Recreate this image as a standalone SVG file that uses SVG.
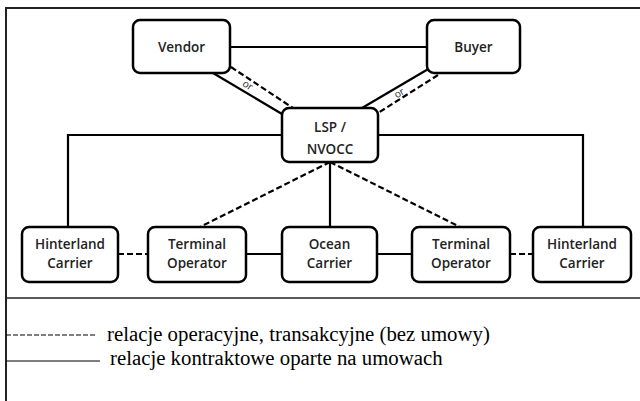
<svg xmlns="http://www.w3.org/2000/svg" width="640" height="401" viewBox="0 0 640 401">
<style>
.box{fill:#fff;stroke:#000;stroke-width:2.5}
.lbl{font-family:"Open Sans","Liberation Sans",sans-serif;font-weight:600;font-size:13.5px;fill:#222;text-anchor:middle}
.c{stroke:#000;stroke-width:2.2;fill:none}
.d{stroke:#000;stroke-width:2.2;fill:none;stroke-dasharray:6 3}
.or{font-family:"Open Sans","Liberation Sans",sans-serif;font-size:10px;fill:#222;text-anchor:middle}
.leg{font-family:"Liberation Serif","Times New Roman",serif;font-size:20.8px;fill:#000}
</style>
<rect width="640" height="401" fill="#fff"/>
<g id="frame">
<line x1="5" y1="8" x2="640" y2="8" stroke="#222" stroke-width="2"/>
<line x1="6" y1="7" x2="6" y2="401" stroke="#222" stroke-width="2"/>
<line x1="6" y1="298" x2="640" y2="298" stroke="#222" stroke-width="1.5"/>
</g>
<g id="connectors">
<line class="c" x1="230" y1="47" x2="427" y2="47"/>
<line class="c" x1="213" y1="73" x2="282" y2="114"/>
<line class="d" x1="231" y1="67" x2="293" y2="108"/>
<text class="or" transform="translate(246,88) rotate(33)">or</text>
<line class="c" x1="430" y1="68" x2="362" y2="108"/>
<line class="d" x1="438" y1="75" x2="378" y2="113"/>
<text class="or" transform="translate(401,96) rotate(-31)">or</text>
<polyline class="c" points="282,135 68,135 68,227"/>
<polyline class="c" points="378,135 583,135 583,227"/>
<line class="c" x1="330" y1="162" x2="330" y2="227"/>
<line class="d" x1="330" y1="162" x2="200" y2="227"/>
<line class="d" x1="330" y1="162" x2="460" y2="227"/>
<line class="d" x1="118" y1="254" x2="148" y2="254"/>
<line class="c" x1="246" y1="254" x2="282" y2="254"/>
<line class="c" x1="377" y1="254" x2="412" y2="254"/>
<line class="d" x1="510" y1="254" x2="533" y2="254"/>
</g>
<g id="vendor"><rect class="box" x="133" y="20" width="97" height="53" rx="7"/><text class="lbl" x="181.5" y="52">Vendor</text></g>
<g id="buyer"><rect class="box" x="427" y="20" width="93" height="53" rx="7"/><text class="lbl" x="473.5" y="52">Buyer</text></g>
<g id="lsp"><rect class="box" x="282" y="108" width="96" height="54" rx="7"/><text class="lbl" x="330" y="132">LSP /</text><text class="lbl" x="330" y="154">NVOCC</text></g>
<g id="hinterland-left"><rect class="box" x="22" y="227" width="96" height="55" rx="7"/><text class="lbl" x="70" y="249">Hinterland</text><text class="lbl" x="70" y="268">Carrier</text></g>
<g id="terminal-left"><rect class="box" x="148" y="227" width="98" height="55" rx="7"/><text class="lbl" x="197" y="249">Terminal</text><text class="lbl" x="197" y="268">Operator</text></g>
<g id="ocean"><rect class="box" x="282" y="227" width="95" height="55" rx="7"/><text class="lbl" x="329.5" y="249">Ocean</text><text class="lbl" x="329.5" y="268">Carrier</text></g>
<g id="terminal-right"><rect class="box" x="412" y="227" width="98" height="55" rx="7"/><text class="lbl" x="461" y="249">Terminal</text><text class="lbl" x="461" y="268">Operator</text></g>
<g id="hinterland-right"><rect class="box" x="533" y="227" width="98" height="55" rx="7"/><text class="lbl" x="582" y="249">Hinterland</text><text class="lbl" x="582" y="268">Carrier</text></g>
<g id="legend">
<line x1="6" y1="335" x2="95" y2="335" stroke="#000" stroke-width="1.2" stroke-dasharray="5 2"/>
<text class="leg" x="107" y="341">relacje operacyjne, transakcyjne (bez umowy)</text>
<line x1="6" y1="361" x2="100" y2="361" stroke="#000" stroke-width="1.2"/>
<text class="leg" x="110" y="365">relacje kontraktowe oparte na umowach</text>
</g>
</svg>
